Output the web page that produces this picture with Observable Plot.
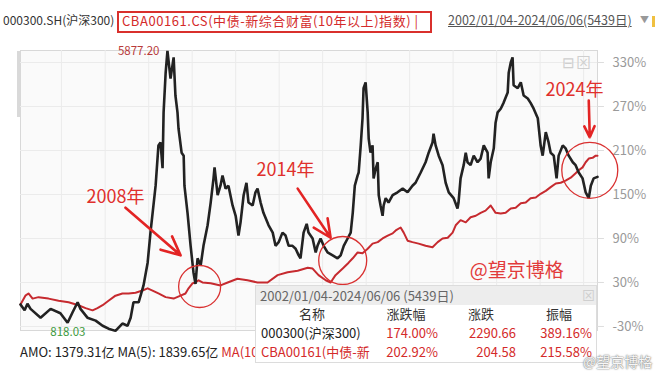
<!DOCTYPE html>
<html><head><meta charset="utf-8">
<script src="https://cdn.jsdelivr.net/npm/d3@7"></script>
<script src="https://cdn.jsdelivr.net/npm/@observablehq/plot@0.6"></script>
<style>
body{margin:0;background:#fff;font-family:"Noto Sans CJK SC","Noto Sans",sans-serif;}
#wrap{position:relative;width:655px;height:377px;overflow:hidden;background:#fff}
.abs{position:absolute;white-space:nowrap;line-height:1}
</style></head><body>
<div id="wrap"><div id="chart" class="abs" style="left:0;top:0"></div></div>
<script>
// ---- data ----
const headerSeries = ["000300.SH(沪深300)", "CBA00161.CS(中债-新综合财富(10年以上)指数) |"];
const dateRange = "2002/01/04-2024/06/06(5439日)";
const tableTitle = "2002/01/04-2024/06/06 (5439日)";
const tableHead = ["名称", "涨跌幅", "涨跌", "振幅"];
const tableNames = ["000300(沪深300)", "CBA00161(中债-新"];
const tableChgPct = ["174.00%", "202.92%"];
const tableChg = ["2290.66", "204.58"];
const tableAmp = ["389.16%", "215.58%"];
const amoText = ["AMO: 1379.31亿 MA(5): 1839.65亿 ", "MA(10"];
const yTicks = [-30, 30, 90, 150, 210, 270, 330];
const gridYears = [2003.60, 2005.30, 2006.99, 2008.68, 2010.37, 2012.06, 2013.75, 2015.44, 2017.13, 2018.82, 2020.51, 2022.20, 2023.89];

const csiYears = [2002.01,2002.17,2002.28,2002.40,2002.79,2003.18,2003.56,2003.84,2004.03,2004.23,
2004.34,2004.61,2004.93,2005.20,2005.43,2005.70,2005.97,2006.17,2006.29,2006.40,
2006.60,2006.79,2006.95,2007.06,2007.26,2007.37,2007.45,2007.53,2007.57,2007.65,
2007.72,2007.84,2007.96,2008.03,2008.11,2008.15,2008.27,2008.35,2008.38,2008.50,
2008.62,2008.73,2008.81,2008.89,2009.01,2009.12,2009.28,2009.40,2009.51,2009.55,
2009.67,2009.78,2009.86,2009.98,2010.09,2010.25,2010.37,2010.48,2010.56,2010.68,
2010.79,2010.87,2011.03,2011.14,2011.22,2011.34,2011.45,2011.65,2011.81,2011.92,
2012.04,2012.19,2012.31,2012.43,2012.58,2012.70,2012.82,2012.89,2013.01,2013.13,
2013.20,2013.36,2013.48,2013.55,2013.67,2013.79,2013.94,2014.14,2014.33,2014.45,
2014.57,2014.72,2014.84,2014.92,2015.00,2015.11,2015.15,2015.23,2015.30,2015.34,
2015.42,2015.50,2015.54,2015.61,2015.69,2015.73,2015.81,2015.89,2015.93,2016.00,
2016.08,2016.12,2016.20,2016.31,2016.47,2016.66,2016.86,2017.05,2017.24,2017.36,
2017.56,2017.75,2017.87,2018.02,2018.06,2018.14,2018.26,2018.41,2018.53,2018.65,
2018.84,2018.99,2019.03,2019.11,2019.23,2019.31,2019.38,2019.50,2019.62,2019.77,
2019.89,2020.01,2020.16,2020.20,2020.28,2020.40,2020.47,2020.55,2020.67,2020.78,
2020.94,2020.98,2021.06,2021.13,2021.17,2021.33,2021.45,2021.56,2021.72,2021.83,
2021.95,2022.11,2022.22,2022.30,2022.42,2022.53,2022.61,2022.73,2022.84,2022.92,
2023.08,2023.19,2023.31,2023.47,2023.58,2023.70,2023.85,2023.97,2024.09,2024.17,
2024.28,2024.43];
const csiPct = [0,-8,1,-6,-18,-6,-12,-25,-11,3,
-6,-18,-22,-29,-33,-36,-26,-29,-18,3,
3,26,57,98,162,217,221,186,262,316,
346,308,337,285,262,240,207,203,162,125,
80,44,28,63,53,80,108,139,172,187,
149,162,176,158,162,135,121,94,112,149,
166,139,135,153,158,139,125,108,98,80,
85,98,94,80,80,76,67,63,98,110,
98,90,71,80,90,80,71,67,63,67,
80,90,98,125,162,176,180,217,254,295,
303,262,226,207,217,172,185,194,149,135,
121,135,145,139,149,153,158,153,162,166,
180,194,207,221,233,217,203,190,166,153,
145,131,139,172,190,207,194,190,203,194,
199,217,207,172,194,213,248,262,267,275,
289,316,330,337,299,295,303,285,281,275,
267,254,217,203,235,221,207,203,172,203,
217,213,203,194,190,180,172,153,145,162,
172,174];

const bondYears = [2002.01,2002.20,2002.32,2002.48,2002.71,2003.10,2003.49,2003.88,2004.26,2004.54,
2004.81,2005.00,2005.20,2005.43,2005.70,2005.97,2006.21,2006.48,2006.75,2006.95,
2007.14,2007.37,2007.65,2007.96,2008.23,2008.42,2008.54,2008.70,2008.81,2008.93,
2009.08,2009.40,2009.78,2010.06,2010.44,2010.83,2011.22,2011.61,2012.00,2012.39,
2012.78,2013.17,2013.36,2013.59,2013.87,2014.06,2014.25,2014.53,2014.76,2014.92,
2015.11,2015.30,2015.50,2015.69,2015.89,2016.08,2016.28,2016.47,2016.59,2016.78,
2016.90,2017.05,2017.24,2017.48,2017.75,2018.02,2018.22,2018.41,2018.61,2018.80,
2018.92,2019.11,2019.31,2019.50,2019.70,2019.89,2020.08,2020.28,2020.47,2020.67,
2020.86,2021.06,2021.25,2021.45,2021.64,2021.83,2022.03,2022.22,2022.42,2022.61,
2022.81,2023.00,2023.19,2023.39,2023.58,2023.70,2023.85,2023.97,2024.09,2024.24,
2024.36,2024.43];
const bondPct = [0,12,15,8,10,8,5,3,-1,-5,
-8,-5,-1,5,12,15,15,16,19,22,
19,15,10,8,12,15,22,29,30,33,
30,29,26,30,35,33,30,30,40,44,
46,50,49,40,33,30,40,49,57,63,
71,70,76,83,85,90,94,97,101,105,
98,87,85,83,80,78,85,90,91,98,
108,115,112,119,121,125,128,135,125,124,
125,131,132,138,139,145,146,151,155,160,
165,166,169,173,179,183,187,194,199,200,
203,203];

const peakLabel = [{t: 2007.72, v: 346, text: "5877.20"}];
const minLabel = [{t: 2005.70, v: -36, text: "818.03"}];
const notes = [{t: 2005.70, v: 146, text: "2008年"}, {t: 2012.31, v: 183, text: "2014年"}, {t: 2023.54, v: 292, text: "2024年"}];
const arrows = [
  {t1: 2006.09, v1: 132, t2: 2008.23, v2: 67},
  {t1: 2012.78, v1: 158, t2: 2014.06, v2: 91},
  {t1: 2024.09, v1: 278, t2: 2024.13, v2: 228}
];
const rings = [{t: 2008.97, v: 24.5, r: 21}, {t: 2014.53, v: 60, r: 24}];
const ring2024 = [{t: 2024.13, v: 183, r: 28}];
const watermark = [{t: 2021.29, v: 46, text: "@望京博格"}];

// ---- chart ----
const red = "#d42a2a";
const csiData = csiYears.map((t, i) => ({t, v: csiPct[i]}));
const bondData = bondYears.map((t, i) => ({t, v: bondPct[i]}));
const xDom = [2002.01, 2024.43];

const plot = Plot.plot({
  width: 655, height: 377,
  marginLeft: 20, marginRight: 58, marginTop: 50, marginBottom: 47,
  x: {domain: xDom, axis: null},
  y: {domain: [-35.5, 346.4], axis: null},
  r: {type: "identity"},
  style: {fontFamily: '"Noto Sans CJK SC", sans-serif', background: "transparent", overflow: "visible"},
  marks: [
    Plot.frame({fill: "#fafafa", stroke: "#d8d8d8"}),
    Plot.ruleX(gridYears, {stroke: "#ebebeb"}),
    Plot.ruleY(yTicks, {x1: xDom[0], x2: xDom[1], stroke: "#ebebeb"}),
    Plot.ruleY(yTicks, {x1: xDom[1], x2: 2024.70, stroke: "#dddddd"}),
    Plot.text(yTicks, {x: xDom[1], y: d => d, text: d => d + "%", textAnchor: "start", dx: 15, fontSize: 13, fill: "#9a9a9a"}),
    Plot.lineY(bondData, {x: "t", y: "v", stroke: "#c62a2f", strokeWidth: 2}),
    Plot.lineY(csiData, {x: "t", y: "v", stroke: "#222", strokeWidth: 2.6, strokeLinejoin: "miter"}),
    Plot.text(peakLabel, {x: "t", y: "v", text: "text", textAnchor: "end", dx: -8, dy: 1, fontSize: 11.5, fill: "#b83a3a"}),
    Plot.text(minLabel, {x: "t", y: "v", text: "text", textAnchor: "end", dx: -30, dy: 1, fontSize: 11.5, fill: "#3d9a3d"}),
    Plot.dot(rings, {x: "t", y: "v", r: "r", stroke: "#d93030", strokeWidth: 1.3, fill: "none"}),
    Plot.dot(ring2024, {x: "t", y: "v", r: "r", stroke: "#d93030", strokeWidth: 1.3, fill: "none", ariaLabel: "ring2024"}),
    Plot.arrow(arrows, {x1: "t1", y1: "v1", x2: "t2", y2: "v2", stroke: "#e32424", strokeWidth: 2.6, headLength: 12, headAngle: 50}),
    Plot.text(notes, {x: "t", y: "v", text: "text", fontSize: 18, fill: "#e0302c"}),
    Plot.text(watermark, {x: "t", y: "v", text: "text", fontSize: 19, fill: "#e23b3b"})
  ]
});
document.getElementById("chart").appendChild(plot);

// make the 2024 ring an ellipse
d3.select(plot).selectAll('g[aria-label="ring2024"] circle').each(function() {
  const c = d3.select(this);
  let cx = +c.attr("cx"), cy = +c.attr("cy");
  if (isNaN(cx) || c.attr("cx") == null) {
    const m = /translate\(([-\d.]+),\s*([-\d.]+)\)/.exec(c.attr("transform") || "");
    if (m) { cx = +m[1]; cy = +m[2]; c.attr("transform", null).attr("cx", cx).attr("cy", cy); }
  }
  c.attr("transform", `translate(${cx},${cy}) scale(0.86,1.18) translate(${-cx},${-cy})`).attr("vector-effect", "non-scaling-stroke");
});

// ---- overlays ----
const wrap = d3.select("#wrap");
function put(text, left, top, style) {
  return wrap.append("div").attr("class", "abs").attr("style", `left:${left}px;top:${top}px;${style || ""}`).text(text);
}
// left scroll indicator
wrap.append("div").attr("class", "abs").attr("style", "left:17px;top:51px;width:3px;height:66px;background:#d9d9d9");
// plot corner icons
put("⊟⊠", 562, 54, "font-size:15px;color:#cfcfcf;letter-spacing:1px");
// header
put(headerSeries[0], 3, 14, "font-size:12px;color:#333");
wrap.append("div").attr("class", "abs").attr("style", "left:117px;top:11px;width:311px;height:18px;border:2px solid #d9302c");
put(headerSeries[1], 122, 14, "font-size:13px;letter-spacing:0.55px;color:" + red);
put(dateRange, 448, 14, "font-size:12.5px;color:#555;text-decoration:underline");
put("▼", 640, 15, "font-size:9px;color:#999");
wrap.append("div").attr("class", "abs").attr("style", "left:652px;top:16px;width:3px;height:11px;background:#f0c040");

// AMO line
const amo = wrap.append("div").attr("class", "abs").attr("style", "left:20px;top:345px;font-size:13px;color:#222");
amo.append("span").text(amoText[0]);
amo.append("span").style("color", red).text(amoText[1]);

// stats table
const tbl = wrap.append("div").attr("class", "abs")
  .attr("style", "left:255px;top:285px;width:342px;height:78px;background:#fff;border:1px solid #dcdcdc;box-sizing:border-box");
tbl.append("div").attr("class", "abs").attr("style", "left:0;top:0;width:340px;height:19px;background:#ededed");
tbl.append("div").attr("class", "abs").attr("style", "left:4px;top:3px;font-size:13px;color:#666").text(tableTitle);
tbl.append("div").attr("class", "abs").attr("style", "left:326px;top:2px;font-size:13px;color:#cfcfcf").text("⊠");
const headCenters = [56, 150, 225, 303];
tableHead.forEach((h, i) => {
  tbl.append("div").attr("class", "abs").attr("style", `left:${headCenters[i] - 40}px;width:80px;text-align:center;top:21px;font-size:13px;color:#333`).text(h);
});
const rowTops = [40, 59];
const rightEdges = [182, 260, 336];
tableNames.forEach((n, r) => {
  tbl.append("div").attr("class", "abs").attr("style", `left:5px;top:${rowTops[r]}px;font-size:13px;color:${r === 0 ? "#222" : red}`).text(n);
  [tableChgPct[r], tableChg[r], tableAmp[r]].forEach((v, c) => {
    tbl.append("div").attr("class", "abs").attr("style", `left:${rightEdges[c] - 90}px;width:90px;text-align:right;top:${rowTops[r]}px;font-size:13px;color:${red}`).text(v);
  });
});
// weibo watermark
put("@望京博格", 583, 354, "font-size:14px;color:rgba(255,255,255,0.95);text-shadow:0 0 2px #777,0 0 1px #777");
</script>
</body></html>
